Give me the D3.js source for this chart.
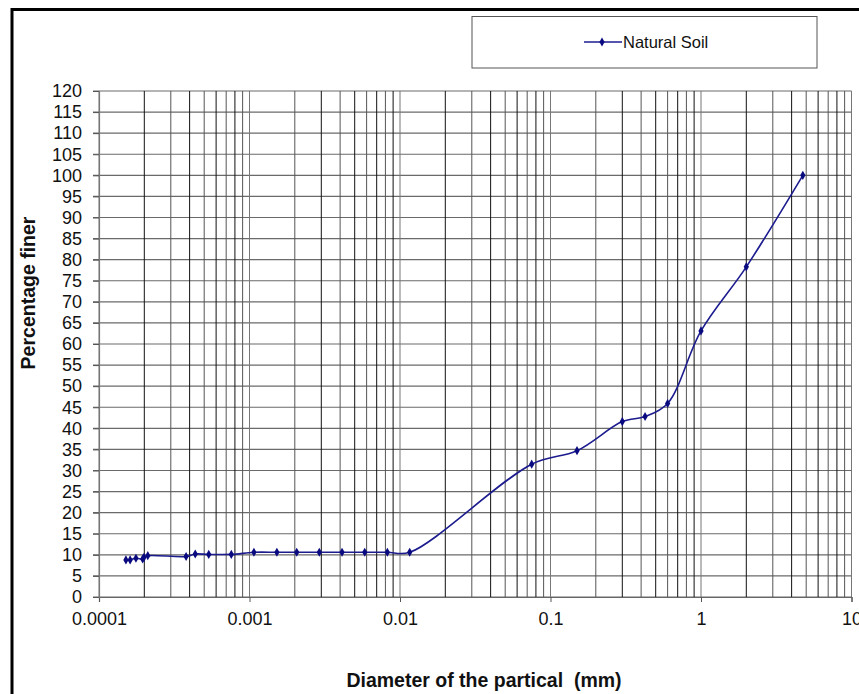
<!DOCTYPE html>
<html>
<head>
<meta charset="utf-8">
<script src="https://cdn.jsdelivr.net/npm/d3@7"></script>
<style>
  body { margin: 0; background: #fff; }
  svg { display: block; font-family: "Liberation Sans", Arial, sans-serif; }
</style>
</head>
<body>
<div id="chart"></div>
<script>
// grain size distribution
const diameters = [0.000151, 0.000161, 0.000176, 0.000195, 0.000199, 0.000211,
  0.000379, 0.000436, 0.000536, 0.000757, 0.00107, 0.00152, 0.00206, 0.00291,
  0.00412, 0.00583, 0.00824, 0.0116, 0.075, 0.15, 0.3, 0.425, 0.6, 1, 2, 4.75];
const percentFiner = [8.8, 8.8, 9.2, 9.0, 9.4, 9.8,
  9.6, 10.2, 10.1, 10.1, 10.6, 10.6, 10.6, 10.6,
  10.6, 10.6, 10.6, 10.6, 31.5, 34.7, 41.6, 42.8, 45.9, 63.1, 78.3, 100];
const xTickValues = [0.0001, 0.001, 0.01, 0.1, 1, 10];
const xTickLabels = ["0.0001", "0.001", "0.01", "0.1", "1", "10"];
const yTickValues = d3.range(0, 125, 5);
const seriesName = "Natural Soil";

const data = diameters.map((d, i) => ({ d: d, p: percentFiner[i] }));

const width = 859, height = 694;
const svg = d3.select("#chart").append("svg")
  .attr("width", width).attr("height", height);

// outer frame
svg.append("rect")
  .attr("x", 12).attr("y", 9.5)
  .attr("width", width + 20).attr("height", height + 20)
  .attr("fill", "none").attr("stroke", "#000").attr("stroke-width", 3);

const x = d3.scaleLog().domain([1e-4, 10]).range([99, 851.5]);
const y = d3.scaleLinear().domain([0, 120]).range([597, 91]);

const grid = svg.append("g");

// horizontal grid
grid.selectAll("line.h").data(yTickValues).enter().append("line")
  .attr("class", "h")
  .attr("x1", 93).attr("x2", x(10))
  .attr("y1", d => y(d)).attr("y2", d => y(d))
  .attr("stroke", "#6a6a6a").attr("stroke-width", 1.2);

// vertical grid (every 1..9 x decade)
const minor = [];
for (let e = -4; e < 1; e++) {
  for (let m = 1; m < 10; m++) minor.push(m * Math.pow(10, e));
}
minor.push(10);
grid.selectAll("line.v").data(minor).enter().append("line")
  .attr("class", "v")
  .attr("x1", d => x(d)).attr("x2", d => x(d))
  .attr("y1", y(120)).attr("y2", y(0))
  .attr("stroke", (d, i) => (i % 9 === 0 ? "#777" : (i % 2 ? "#111" : "#555")))
  .attr("stroke-width", 1);

// axes
const xAxis = svg.append("g")
  .attr("transform", `translate(0,${y(0)})`)
  .call(d3.axisBottom(x).tickValues(xTickValues)
    .tickFormat((d, i) => xTickLabels[i]).tickSize(5).tickPadding(10));
xAxis.select(".domain").attr("stroke", "#666").attr("stroke-width", 1.2);
xAxis.selectAll(".tick line").attr("stroke", "#555");
xAxis.selectAll(".tick text").attr("font-size", 18).attr("fill", "#111")
  .attr("font-family", "'Liberation Sans', Arial, sans-serif");

const yAxis = svg.append("g")
  .attr("transform", `translate(${x(1e-4)},0)`)
  .call(d3.axisLeft(y).tickValues(yTickValues).tickSize(6).tickPadding(11));
yAxis.select(".domain").attr("stroke", "#777").attr("stroke-width", 1.2);
yAxis.selectAll(".tick line").attr("stroke", "#555");
yAxis.selectAll(".tick text").attr("font-size", 18).attr("fill", "#111")
  .attr("font-family", "'Liberation Sans', Arial, sans-serif");

// series
const lineColor = "#1c1c8f";
const line = d3.line()
  .x(d => x(d.d)).y(d => y(d.p))
  .curve(d3.curveCatmullRom.alpha(0.5));

svg.append("path").datum(data)
  .attr("d", line)
  .attr("fill", "none").attr("stroke", lineColor).attr("stroke-width", 1.6);

const marker = d3.symbol().type(d3.symbolDiamond).size(24);
svg.selectAll("path.pt").data(data).enter().append("path")
  .attr("class", "pt")
  .attr("d", marker)
  .attr("transform", d => `translate(${x(d.d)},${y(d.p)})`)
  .attr("fill", "#0a0a80");

// legend
const lg = svg.append("g");
lg.append("rect")
  .attr("x", 472).attr("y", 16.5).attr("width", 345).attr("height", 51.5)
  .attr("fill", "#fff").attr("stroke", "#555").attr("stroke-width", 1);
lg.append("line")
  .attr("x1", 584).attr("x2", 622).attr("y1", 42).attr("y2", 42)
  .attr("stroke", lineColor).attr("stroke-width", 1.6);
lg.append("path").attr("d", marker).attr("transform", "translate(602,42)")
  .attr("fill", "#0a0a80");
lg.append("text").attr("x", 623).attr("y", 48)
  .attr("font-size", 16.5).attr("fill", "#111").text(seriesName);

// axis titles
svg.append("text")
  .attr("x", 484).attr("y", 687)
  .attr("text-anchor", "middle").attr("font-weight", "bold")
  .attr("font-size", 19.5).attr("fill", "#111")
  .style("white-space", "pre")
  .text("Diameter of the partical  (mm)");

svg.append("text")
  .attr("transform", "translate(35,293) rotate(-90)")
  .attr("text-anchor", "middle").attr("font-weight", "bold")
  .attr("font-size", 19.5).attr("fill", "#111")
  .text("Percentage finer");
</script>
</body>
</html>
